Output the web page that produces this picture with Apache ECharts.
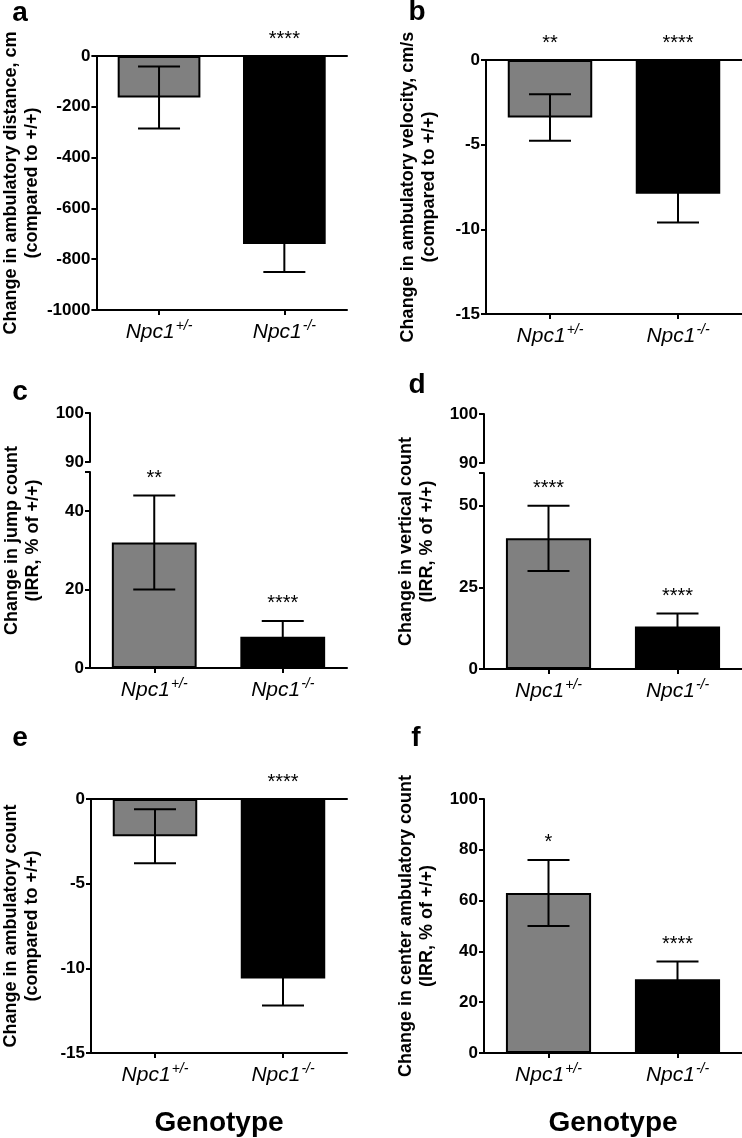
<!DOCTYPE html>
<html><head><meta charset="utf-8">
<script src="https://cdn.jsdelivr.net/npm/echarts@6/dist/echarts.min.js"></script>
<style>html,body{margin:0;padding:0;background:#fff}#c{width:742px;height:1138px}</style>
</head><body><div id="c"></div>
<script>
// ---- data ----
const categories = ['Npc1+/-', 'Npc1-/-'];
const barColors = ['#808080', '#000000'];

const aMean = [-163, -740], aErr = [122, 110], aStars = ['', '****'];
const bMean = [-3.4, -7.9], bErr = [1.37, 1.7], bStars = ['**', '****'];
const cMean = [32, 8], cErr = [12, 4], cStars = ['**', '****'];
const dMean = [40, 13], dErr = [10, 4], dStars = ['****', '****'];
const eMean = [-2.2, -10.6], eErr = [1.6, 1.6], eStars = ['', '****'];
const fMean = [63, 29], fErr = [13, 7], fStars = ['*', '****'];

const aTitle = 'Change in ambulatory distance, cm\n(compared to +/+)';
const bTitle = 'Change in ambulatory velocity, cm/s\n(compared to +/+)';
const cTitle = 'Change in jump count\n(IRR, % of +/+)';
const dTitle = 'Change in vertical count\n(IRR, % of +/+)';
const eTitle = 'Change in ambulatory count\n(compared to +/+)';
const fTitle = 'Change in center ambulatory count\n(IRR, % of +/+)';
const xTitle = 'Genotype';
const panelLetters = ['a', 'b', 'c', 'd', 'e', 'f'];

// ---- styling ----
const FONT = 'Liberation Sans, Arial, sans-serif';
const LW = 2;
const axisLine = {show: true, onZero: false, lineStyle: {color: '#000', width: LW}};
const yTick = {show: true, length: 5, lineStyle: {color: '#000', width: LW}};
const yLabel = {color: '#000', fontWeight: 'bold', fontSize: 17, fontFamily: FONT, margin: 6};

const grids = [], xAxes = [], yAxes = [], series = [];

function addGrid(g) { grids.push(Object.assign({containLabel: false}, g)); return grids.length - 1; }

function xBottom(gi, withName) {
  xAxes.push({
    type: 'category', gridIndex: gi, data: categories, position: 'bottom',
    axisLine: axisLine,
    axisTick: {show: true, alignWithLabel: true, length: 5, lineStyle: {color: '#000', width: LW}},
    axisLabel: {
      margin: 9,
      formatter: v => '{n|' + v.slice(0, 4) + '}{s|' + v.slice(4) + '}',
      rich: {
        n: {fontSize: 21, fontStyle: 'italic', fontFamily: FONT, color: '#000', lineHeight: 26},
        s: {fontSize: 14, fontStyle: 'italic', fontFamily: FONT, color: '#000', lineHeight: 26, padding: [0, 0, 12, 1]}
      }
    },
    name: withName ? xTitle : '', nameLocation: 'middle', nameGap: 56,
    nameTextStyle: {fontSize: 28, fontWeight: 'bold', fontFamily: FONT, color: '#000'},
    splitLine: {show: false}
  });
  return xAxes.length - 1;
}
function xTopLine(gi) {
  xAxes.push({type: 'category', gridIndex: gi, data: categories, position: 'top',
    axisLine: axisLine, axisTick: {show: false}, axisLabel: {show: false}, splitLine: {show: false}});
}
function xHidden(gi) {
  xAxes.push({type: 'category', gridIndex: gi, data: categories, show: false});
  return xAxes.length - 1;
}
function yAxis(gi, min, max, interval, name, nameGap, hideMax) {
  yAxes.push({
    type: 'value', gridIndex: gi, min: min, max: max, interval: interval,
    axisLine: {show: true, lineStyle: {color: '#000', width: LW}},
    axisTick: yTick,
    axisLabel: Object.assign({}, yLabel, {formatter: v => (hideMax && v === max ? '' : String(v))}),
    splitLine: {show: false},
    name: name || '', nameLocation: 'middle', nameGap: nameGap || 0, nameRotate: 90,
    nameTextStyle: {fontSize: 18, fontWeight: 'bold', fontFamily: FONT, color: '#000', lineHeight: 21}
  });
  return yAxes.length - 1;
}
function yNameOnly(gi, name, nameGap) {
  yAxes.push({
    type: 'value', gridIndex: gi, min: 0, max: 1,
    axisLine: {show: false}, axisTick: {show: false}, axisLabel: {show: false}, splitLine: {show: false},
    name: name, nameLocation: 'middle', nameGap: nameGap, nameRotate: 90,
    nameTextStyle: {fontSize: 18, fontWeight: 'bold', fontFamily: FONT, color: '#000', lineHeight: 21}
  });
}

function addBars(xi, yi, mean, err, stars) {
  series.push({
    type: 'bar', xAxisIndex: xi, yAxisIndex: yi, barWidth: '66%',
    data: mean.map((m, i) => ({value: m, itemStyle: {color: barColors[i], borderColor: '#000', borderWidth: LW}})),
    silent: true, animation: false
  });
  series.push({
    type: 'custom', xAxisIndex: xi, yAxisIndex: yi, z: 5, animation: false, silent: true,
    data: mean.map((m, i) => [i, m, err[i]]),
    renderItem: function (params, api) {
      const x = api.value(0), m = api.value(1), e = api.value(2);
      const hi = api.coord([x, m + e]), lo = api.coord([x, m - e]);
      const cw = 21;
      const st = {stroke: '#000', lineWidth: LW};
      const top = api.coord([x, Math.max(0, m + e)]);
      return {type: 'group', children: [
        {type: 'line', shape: {x1: hi[0], y1: hi[1], x2: lo[0], y2: lo[1]}, style: st},
        {type: 'line', shape: {x1: hi[0] - cw, y1: hi[1], x2: hi[0] + cw, y2: hi[1]}, style: st},
        {type: 'line', shape: {x1: lo[0] - cw, y1: lo[1], x2: lo[0] + cw, y2: lo[1]}, style: st},
        {type: 'text', x: top[0], y: top[1] - 17,
          style: {text: stars[params.dataIndex], fill: '#000', font: '20px ' + FONT, align: 'center', verticalAlign: 'middle'}}
      ]};
    }
  });
}

// ---- panel a ----
let g = addGrid({left: 90, top: 56, width: 257, height: 254});
let xi = xBottom(g, false); xTopLine(g);
let yi = yAxis(g, -1000, 0, 200, aTitle, 48);
addBars(xi, yi, aMean, aErr, aStars);

// ---- panel b ----
g = addGrid({left: 486, top: 60, width: 256, height: 254});
xi = xBottom(g, false); xTopLine(g);
yi = yAxis(g, -15, 0, 5, bTitle, 46);
addBars(xi, yi, bMean, bErr, bStars);

// ---- panel c (broken axis) ----
g = addGrid({left: 90, top: 413, width: 257, height: 49});
xHidden(g); yAxis(g, 90, 100, 10);
g = addGrid({left: 90, top: 472, width: 257, height: 196});
xi = xBottom(g, false);
yi = yAxis(g, 0, 50, 20, '', 0, true);
addBars(xi, yi, cMean, cErr, cStars);
g = addGrid({left: 90, top: 413, width: 257, height: 255});
xHidden(g); yNameOnly(g, cTitle, 46);

// ---- panel d (broken axis) ----
g = addGrid({left: 484, top: 414, width: 258, height: 49});
xHidden(g); yAxis(g, 90, 100, 10);
g = addGrid({left: 484, top: 473, width: 258, height: 196});
xi = xBottom(g, false);
yi = yAxis(g, 0, 60, 25, '', 0, true);
addBars(xi, yi, dMean, dErr, dStars);
g = addGrid({left: 484, top: 414, width: 258, height: 255});
xHidden(g); yNameOnly(g, dTitle, 46);

// ---- panel e ----
g = addGrid({left: 90, top: 799, width: 257, height: 254});
xi = xBottom(g, true); xTopLine(g);
yi = yAxis(g, -15, 0, 5, eTitle, 48);
addBars(xi, yi, eMean, eErr, eStars);

// ---- panel f ----
g = addGrid({left: 484, top: 799, width: 258, height: 254});
xi = xBottom(g, true);
yi = yAxis(g, 0, 100, 20, fTitle, 46);
addBars(xi, yi, fMean, fErr, fStars);

// ---- panel letters ----
const letterPos = [[20, 13], [417, 12], [20, 392], [417, 385], [20, 738], [416, 738]];
const graphic = panelLetters.map((t, i) => ({
  type: 'text', x: letterPos[i][0], y: letterPos[i][1],
  style: {text: t, font: 'bold 28px ' + FONT, fill: '#000', align: 'center', verticalAlign: 'middle'}
}));

const chart = echarts.init(document.getElementById('c'), null, {renderer: 'canvas'});
chart.setOption({
  animation: false,
  backgroundColor: '#fff',
  textStyle: {fontFamily: FONT},
  grid: grids, xAxis: xAxes, yAxis: yAxes, series: series, graphic: graphic
});
</script></body></html>
